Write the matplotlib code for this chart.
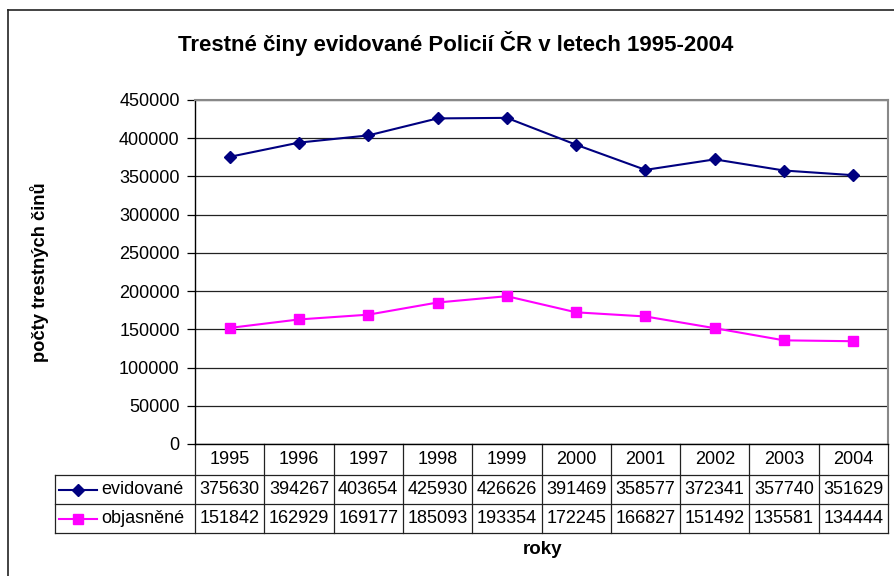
import matplotlib
matplotlib.use('Agg')
import matplotlib.pyplot as plt
from matplotlib.lines import Line2D
from matplotlib.transforms import blended_transform_factory

plt.rcParams['font.family'] = ['Liberation Sans', 'DejaVu Sans']

roky = ['1995', '1996', '1997', '1998', '1999', '2000', '2001', '2002', '2003', '2004']
evidovane = [375630, 394267, 403654, 425930, 426626, 391469, 358577, 372341, 357740, 351629]
objasnene = [151842, 162929, 169177, 185093, 193354, 172245, 166827, 151492, 135581, 134444]
y_ticks = [0, 50000, 100000, 150000, 200000, 250000, 300000, 350000, 400000, 450000]

W, H = 895, 576
fig = plt.figure(figsize=(W / 100, H / 100), dpi=100)
ax = fig.add_axes([195 / W, 1 - 444 / H, (888 - 195) / W, 344 / H])

x = list(range(len(roky)))
ax.plot(x, evidovane, color='#000080', marker='D', markersize=6.5, lw=1.5, clip_on=False, zorder=3)
ax.plot(x, objasnene, color='#FF00FF', marker='s', markersize=7, lw=1.5, clip_on=False, zorder=3)

ax.set_xlim(-0.5, len(roky) - 0.5)
ax.set_ylim(0, 450000)
ax.set_yticks(y_ticks)
ax.set_yticklabels([str(v) for v in y_ticks], fontsize=13)
ax.set_xticks([])
ax.yaxis.grid(True, color='#222222', lw=0.9)
ax.set_axisbelow(True)
ax.tick_params(axis='y', length=6, width=0.9, pad=5)
for s in ['top', 'right']:
    ax.spines[s].set_color('#888888')
    ax.spines[s].set_linewidth(1.5)
ax.spines['left'].set_linewidth(1)
ax.spines['bottom'].set_linewidth(1)

# data table under the axes
tr = blended_transform_factory(ax.transData, ax.transAxes)
h = 344.0
rows_y = [0, -31 / h, -60 / h, -89 / h]
x_left = -0.5 - 140 / 69.3
x_end = len(roky) - 0.5
kw = dict(color='#222222', lw=0.9, transform=tr, clip_on=False)
for i in range(len(roky) + 1):
    ax.add_line(Line2D([i - 0.5, i - 0.5], [0, rows_y[3]], **kw))
for yy in rows_y[1:]:
    ax.add_line(Line2D([x_left, x_end], [yy, yy], **kw))
ax.add_line(Line2D([x_left, x_left], [rows_y[1], rows_y[3]], **kw))

for i, r in enumerate(roky):
    ax.text(i, (rows_y[0] + rows_y[1]) / 2, r, transform=tr, ha='center', va='center', fontsize=13)
    ax.text(i, (rows_y[1] + rows_y[2]) / 2, str(evidovane[i]), transform=tr, ha='center', va='center', fontsize=13)
    ax.text(i, (rows_y[2] + rows_y[3]) / 2, str(objasnene[i]), transform=tr, ha='center', va='center', fontsize=13)

# legend keys in the table
lx0 = x_left + 4 / 69.3
lx1 = x_left + 42 / 69.3
lxm = (lx0 + lx1) / 2
for (yy0, yy1), col, mk, ms, name in [((rows_y[1], rows_y[2]), '#000080', 'D', 6, 'evidované'),
                                      ((rows_y[2], rows_y[3]), '#FF00FF', 's', 7, 'objasněné')]:
    ym = (yy0 + yy1) / 2
    ax.add_line(Line2D([lx0, lx1], [ym, ym], color=col, lw=1.5, transform=tr, clip_on=False))
    ax.add_line(Line2D([lxm], [ym], color=col, marker=mk, markersize=ms, transform=tr, clip_on=False))
    ax.text(lx1 + 4 / 69.3, ym, name, transform=tr, ha='left', va='center', fontsize=13)

fig.text(456 / W, 1 - 44 / H, 'Trestné činy evidované Policií ČR v letech 1995-2004',
         ha='center', va='center', fontsize=16, fontweight='bold')
fig.text(40 / W, 1 - 272 / H, 'počty trestných činů', rotation=90,
         ha='center', va='center', fontsize=13.2, fontweight='bold')
fig.text(542 / W, 1 - 550 / H, 'roky', ha='center', va='center', fontsize=13.5, fontweight='bold')

# chart area border (left and top visible)
fig.add_artist(Line2D([8 / W, 8 / W], [0, 1 - 10 / H], color='#222222', lw=1.2, transform=fig.transFigure))
fig.add_artist(Line2D([8 / W, 1], [1 - 10 / H, 1 - 10 / H], color='#222222', lw=1.2, transform=fig.transFigure))

fig.savefig('out.png', dpi=100)
